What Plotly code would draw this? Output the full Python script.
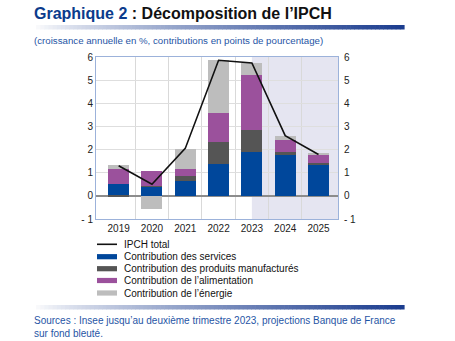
import plotly.graph_objects as go

# ---- data ----
years = ["2019", "2020", "2021", "2022", "2023", "2024", "2025"]
ipch_total = [1.3, 0.5, 2.05, 5.86, 5.74, 2.6, 1.79]
services = [0.51, 0.40, 0.65, 1.39, 1.88, 1.76, 1.37]
manufactures = [-0.07, 0.03, 0.22, 0.93, 0.98, 0.12, 0.06]
alimentation = [0.67, 0.64, 0.28, 1.27, 2.36, 0.53, 0.36]
energie = [0.15, -0.55, 0.88, 2.27, 0.52, 0.19, 0.03]
y_tickvals = [-1, 0, 1, 2, 3, 4, 5, 6]
y_ticktext = ["- 1", "0", "1", "2", "3", "4", "5", "6"]

# ---- styling ----
FONT = "Liberation Sans, Arial, sans-serif"
C_SERV = "#00479b"
C_MANU = "#555555"
C_ALIM = "#9b519c"
C_ENER = "#bdbdbd"
C_SHADE = "#e5e5f1"
C_BLUE_TXT = "#1f55a5"
C_TITLE_BLUE = "#0b3b8c"
W_PX, H_PX = 455, 341
L, R, T, B = 96, 338, 57, 219


def px2x(px):
    return (px - L) / (R - L)


def py2y(py):
    return (B - py) / (B - T)


x = list(range(len(years)))

fig = go.Figure()
for name, vals, col in [
    ("Contribution des services", services, C_SERV),
    ("Contribution des produits manufacturés", manufactures, C_MANU),
    ("Contribution de l’alimentation", alimentation, C_ALIM),
    ("Contribution de l’énergie", energie, C_ENER),
]:
    fig.add_trace(go.Bar(x=x, y=vals, name=name, marker=dict(color=col, line=dict(width=0)),
                         width=0.63, showlegend=False, hoverinfo="skip"))

fig.add_trace(go.Scatter(x=x, y=ipch_total, mode="lines", name="IPCH total",
                         line=dict(color="#111111", width=1.6), yaxis="y2",
                         showlegend=False))

shapes = []
# projection shading
shapes.append(dict(type="rect", xref="x", yref="paper", x0=4, x1=6.585, y0=0, y1=1,
                   fillcolor=C_SHADE, line=dict(width=0), layer="below"))


def grad_bar(py0, py1, px0=32, px1=404, n=90):
    c0 = (255, 255, 255)
    c1 = (28, 61, 143)
    out = []
    for i in range(n):
        t = i / (n - 1)
        tt = t ** 0.8
        col = "rgb(%d,%d,%d)" % tuple(int(c0[k] + (c1[k] - c0[k]) * tt) for k in range(3))
        a = px0 + (px1 - px0) * i / n
        b = px0 + (px1 - px0) * (i + 1) / n + 0.6
        out.append(dict(type="rect", xref="paper", yref="paper", x0=px2x(a), x1=px2x(b),
                        y0=py2y(py1), y1=py2y(py0), fillcolor=col, line=dict(width=0),
                        layer="above"))
    return out


shapes += grad_bar(25, 29.5)
shapes += grad_bar(305, 309.5)

annotations = []
# title
annotations.append(dict(xref="paper", yref="paper", x=px2x(32), y=py2y(14), xanchor="left",
                        yanchor="middle", showarrow=False,
                        text="<b><span style='color:%s'>Graphique 2</span> : Décomposition de l’IPCH</b>" % C_TITLE_BLUE,
                        font=dict(family=FONT, size=16, color="#111111")))
annotations.append(dict(xref="paper", yref="paper", x=px2x(32), y=py2y(40.5), xanchor="left",
                        yanchor="middle", showarrow=False,
                        text="(croissance annuelle en %, contributions en points de pourcentage)",
                        font=dict(family=FONT, size=9.7, color=C_BLUE_TXT)))
annotations.append(dict(xref="paper", yref="paper", x=px2x(32), y=py2y(326.5), xanchor="left",
                        yanchor="middle", showarrow=False, align="left",
                        text="Sources : Insee jusqu’au deuxième trimestre 2023, projections Banque de France<br>sur fond bleuté.",
                        font=dict(family=FONT, size=10, color=C_BLUE_TXT)))

# manual legend
leg_items = [
    ("IPCH total", "#111111", "line", 244.3),
    ("Contribution des services", C_SERV, "rect", 256.7),
    ("Contribution des produits manufacturés", C_MANU, "rect", 268.7),
    ("Contribution de l’alimentation", C_ALIM, "rect", 280.5),
    ("Contribution de l’énergie", C_ENER, "rect", 293.0),
]
for lab, col, kind, py in leg_items:
    if kind == "line":
        shapes.append(dict(type="line", xref="paper", yref="paper", x0=px2x(97), x1=px2x(117),
                           y0=py2y(py), y1=py2y(py), line=dict(color=col, width=1.6)))
    else:
        shapes.append(dict(type="rect", xref="paper", yref="paper", x0=px2x(97), x1=px2x(117),
                           y0=py2y(py + 2.6), y1=py2y(py - 2.6), fillcolor=col, line=dict(width=0)))
    annotations.append(dict(xref="paper", yref="paper", x=px2x(122), y=py2y(py), xanchor="left",
                            yanchor="middle", showarrow=False, text=lab,
                            font=dict(family=FONT, size=10, color="#111111")))

axis_line = "#9cb2da"
fig.update_layout(
    width=W_PX, height=H_PX,
    margin=dict(l=L, r=W_PX - R, t=T, b=H_PX - B, pad=0),
    paper_bgcolor="white", plot_bgcolor="white",
    barmode="relative", bargap=0,
    font=dict(family=FONT, size=10, color="#222222"),
    showlegend=False,
    shapes=shapes, annotations=annotations,
    xaxis=dict(range=[-0.68, 6.585], tickvals=x, ticktext=years, showgrid=False,
               showline=True, mirror=True, linecolor=axis_line, linewidth=1,
               ticks="", zeroline=False, fixedrange=True,
               minor=dict(tickvals=[0.5, 1.5, 2.5, 3.5, 4.5, 5.5], showgrid=True,
                          gridcolor="#d9d9d9", gridwidth=1, ticks="")),
    yaxis=dict(range=[-1, 6], tickvals=y_tickvals, ticktext=y_ticktext, showgrid=True,
               gridcolor="#dedede", gridwidth=1, zeroline=True, zerolinecolor="#8c8c8c",
               zerolinewidth=1.5, showline=True, mirror=True, linecolor=axis_line,
               linewidth=1, ticks="", fixedrange=True),
    yaxis2=dict(range=[-1, 6], tickvals=y_tickvals, ticktext=y_ticktext, overlaying="y",
                side="right", showgrid=False, zeroline=False, showline=False, ticks="",
                fixedrange=True, ticklabelstandoff=5),
)

fig.write_html("out.html")
